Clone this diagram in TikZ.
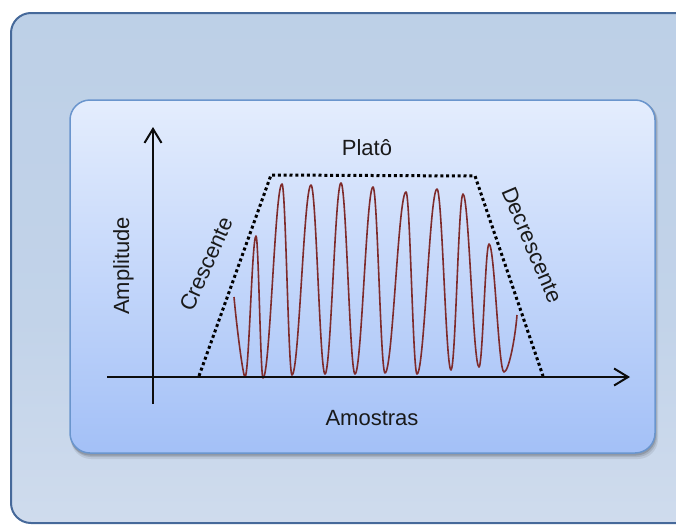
\documentclass[tikz,border=0pt]{standalone}
\usepackage{fontspec}
\setmainfont{Liberation Sans}
\usetikzlibrary{arrows.meta}
\definecolor{outerline}{HTML}{46699A}
\definecolor{outtop}{HTML}{B9CDE5}
\definecolor{outmid}{HTML}{C2D3E9}
\definecolor{outbot}{HTML}{DFE6F2}
\definecolor{innerline}{HTML}{6A95CD}
\definecolor{intop}{HTML}{E4EDFD}
\definecolor{inbot}{HTML}{A3C0F7}
\definecolor{wavecol}{HTML}{7E2B2B}
\definecolor{textcol}{HTML}{1A1A1A}
\definecolor{axiscol}{HTML}{0D0D0D}
\pgfdeclareverticalshading{outershade}{100bp}{color(0bp)=(outbot); color(45bp)=(outmid); color(100bp)=(outtop)}
\begin{document}
\begin{tikzpicture}[x=1pt,y=-1pt,
  axisline/.style={line width=2.4pt, draw=axiscol, -{Straight Barb[length=14pt,width=17pt,line width=2pt]}},
  envelope/.style={draw=black, line width=3pt, dash pattern=on 3pt off 2.8pt},
  wave/.style={draw=wavecol, line width=1.6pt, line join=round},
  lbl/.style={font=\fontsize{22}{26}\selectfont, text=textcol, inner sep=0pt},
  shadowbox/.style={fill=black, rounded corners=20pt}]
\useasboundingbox (0,0) rectangle (676,525);
\begin{scope}
  \clip (0,0) rectangle (676,525);
  \path[draw=outerline, line width=2pt, rounded corners=20pt, shading=outershade] (11,13) rectangle (720,523);
\end{scope}
% soft shadow of the inner panel
\path[shadowbox, opacity=0.08] (71,102) rectangle (658,459);
\path[shadowbox, opacity=0.10] (71,101) rectangle (657,457);
\path[shadowbox, opacity=0.14] (70,100) rectangle (656,455.5);
% inner panel
\path[draw=innerline, line width=1.5pt, rounded corners=20pt, top color=intop, bottom color=inbot] (70,100) rectangle (655,453);
% wave
\draw[wave] (234,297) .. controls (236.5,325) and (243,377) .. (245,377)
 .. controls +(4,0) and +(-4,0) .. (256,236)
 .. controls +(2.5,0) and +(-2.5,0) .. (263,378)
 .. controls +(6.9,0) and +(-6.9,0) .. (282,184)
 .. controls +(3.6,0) and +(-3.6,0) .. (292,375)
 .. controls +(6.9,0) and +(-6.9,0) .. (311,185)
 .. controls +(5.1,0) and +(-5.1,0) .. (325,374)
 .. controls +(5.8,0) and +(-5.8,0) .. (341,183)
 .. controls +(5.1,0) and +(-5.1,0) .. (355,374)
 .. controls +(6.5,0) and +(-6.5,0) .. (373,187)
 .. controls +(4.4,0) and +(-4.4,0) .. (385,373)
 .. controls +(7.6,0) and +(-7.6,0) .. (406,192)
 .. controls +(4,0) and +(-4,0) .. (417,374)
 .. controls +(7.3,0) and +(-7.3,0) .. (437,189)
 .. controls +(5.1,0) and +(-5.1,0) .. (451,370)
 .. controls +(4.4,0) and +(-4.4,0) .. (463,194)
 .. controls +(5.8,0) and +(-5.8,0) .. (479,367)
 .. controls +(3.6,0) and +(-3.6,0) .. (489,244)
 .. controls +(5.5,0) and +(-5.5,0) .. (504,372)
 .. controls +(4.5,0) and +(-2,25) .. (517,315);
% envelope
\coordinate (e1) at (199,376);
\coordinate (e2) at (271,175);
\coordinate (e3) at (475,176);
\coordinate (e4) at (543,376);
\draw[envelope] (e1) -- (e2) -- (e3) -- (e4);
% axes
\coordinate (xL) at (107,377);
\coordinate (xR) at (630,377);
\coordinate (yB) at (153,404);
\coordinate (yT) at (153,127);
\draw[axisline] (xL) -- (xR);
\draw[axisline] (yB) -- (yT);
% labels
\node[lbl, anchor=base] (plato) at (367,155) {Platô};
\node[lbl, anchor=base] (amostras) at (372,425) {Amostras};
\node[lbl, anchor=base, rotate=90] (amp) at (129,266) {Amplitude};
\node[lbl, rotate=66] (cres) at (206,264) {Crescente};
\node[lbl, rotate=-67] (decres) at (532,245) {Decrescente};
\end{tikzpicture}
\end{document}
